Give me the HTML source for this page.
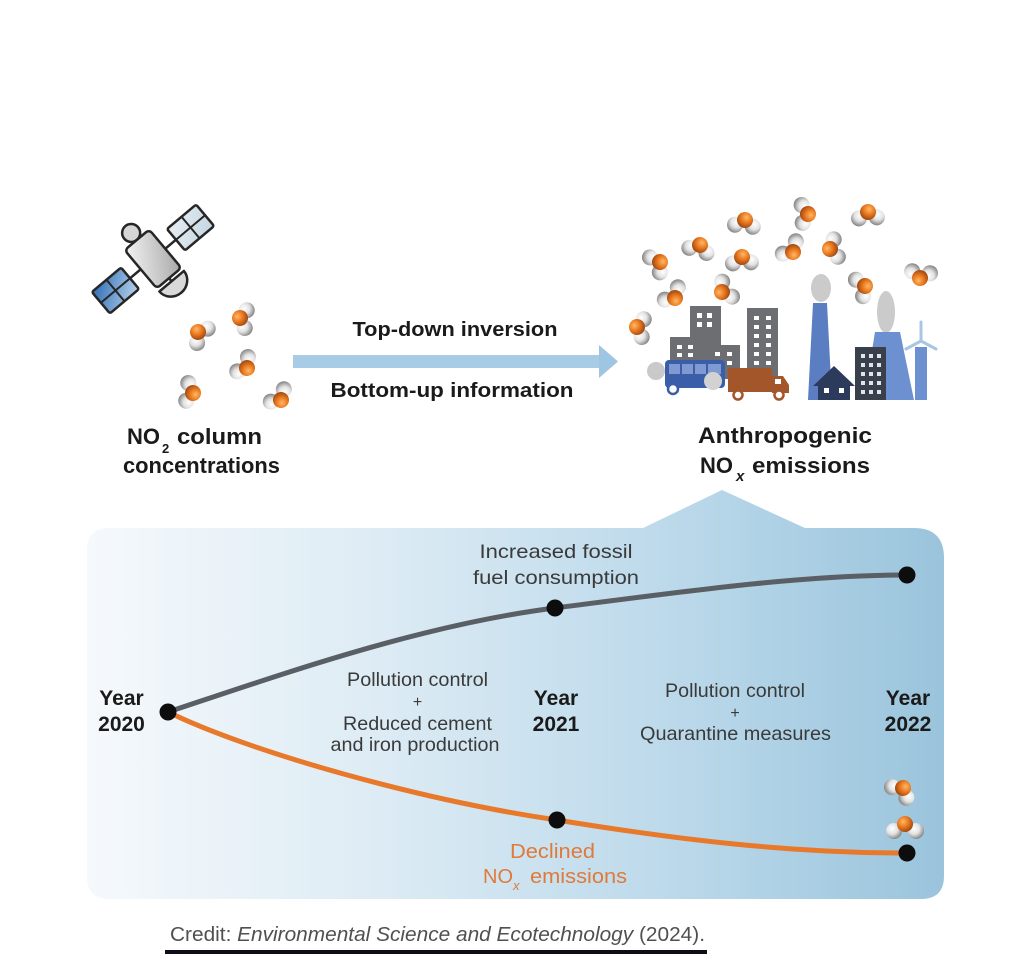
<!DOCTYPE html>
<html>
<head>
<meta charset="utf-8">
<style>
  html,body{margin:0;padding:0;background:#fff;}
  svg{display:block;}
  text{font-family:"Liberation Sans", Arial, sans-serif;}
</style>
</head>
<body>
<svg width="1024" height="969" viewBox="0 0 1024 969" xmlns="http://www.w3.org/2000/svg">
  <defs>
    <linearGradient id="panelG" x1="87" y1="0" x2="944" y2="0" gradientUnits="userSpaceOnUse">
      <stop offset="0" stop-color="#f5f9fc"/>
      <stop offset="0.35" stop-color="#dcebf4"/>
      <stop offset="0.7" stop-color="#bad8ea"/>
      <stop offset="1" stop-color="#9ac4dc"/>
    </linearGradient>
    <radialGradient id="gw" cx="38%" cy="35%" r="70%">
      <stop offset="0" stop-color="#ffffff"/>
      <stop offset="0.5" stop-color="#e2e2e2"/>
      <stop offset="1" stop-color="#7e7e7e"/>
    </radialGradient>
    <radialGradient id="go" cx="38%" cy="35%" r="70%">
      <stop offset="0" stop-color="#ffb866"/>
      <stop offset="0.5" stop-color="#e8781f"/>
      <stop offset="1" stop-color="#9a4410"/>
    </radialGradient>
    <linearGradient id="bodyG" x1="0" y1="0" x2="1" y2="1">
      <stop offset="0" stop-color="#f4f4f4"/>
      <stop offset="1" stop-color="#a8a8a8"/>
    </linearGradient>
    <linearGradient id="panelBlue" x1="0" y1="0" x2="1" y2="1">
      <stop offset="0" stop-color="#2f6fb8"/>
      <stop offset="1" stop-color="#b8d2ea"/>
    </linearGradient>
    <linearGradient id="panelLight" x1="0" y1="0" x2="1" y2="1">
      <stop offset="0" stop-color="#e8eef2"/>
      <stop offset="1" stop-color="#c4d6e2"/>
    </linearGradient>
    <symbol id="m" overflow="visible">
      <circle cx="9" cy="-5" r="8" fill="url(#gw)"/>
      <circle cx="1" cy="11" r="8" fill="url(#gw)"/>
      <circle cx="0" cy="0" r="8" fill="url(#go)"/>
    </symbol>
  </defs>

  <!-- Satellite -->
  <g transform="translate(153,259) rotate(-40)" stroke="#262626" stroke-width="2.5" stroke-linejoin="round">
    <line x1="15" y1="0" x2="31" y2="0"/>
    <line x1="-15" y1="0" x2="-31" y2="0"/>
    <rect x="30" y="-14" width="38" height="28" rx="2" fill="url(#panelLight)"/>
    <line x1="49" y1="-14" x2="49" y2="14" stroke-width="2"/>
    <line x1="30" y1="0" x2="68" y2="0" stroke-width="2"/>
    <rect x="-68" y="-14" width="38" height="28" rx="2" fill="url(#panelBlue)"/>
    <line x1="-49" y1="-14" x2="-49" y2="14" stroke-width="2"/>
    <line x1="-68" y1="0" x2="-30" y2="0" stroke-width="2"/>
    <circle cx="0" cy="-34" r="9" fill="#d6d6d6"/>
    <line x1="0" y1="24" x2="0" y2="30"/>
    <path d="M -16,29 L 16,29 A 16 15 0 0 1 -16,29 Z" fill="#d9d9d9"/>
    <rect x="-16" y="-25" width="32" height="50" rx="4" fill="url(#bodyG)"/>
  </g>

  <!-- Left molecules -->
  <use href="#m" transform="translate(198,332) rotate(10)"/>
  <use href="#m" transform="translate(240,318) rotate(-20)"/>
  <use href="#m" transform="translate(247,368) rotate(190)"/>
  <use href="#m" transform="translate(193,393) rotate(160)"/>
  <use href="#m" transform="translate(281,400) rotate(200)"/>

  <!-- Arrow -->
  <rect x="293" y="355" width="308" height="13" fill="#a8cce6"/>
  <polygon points="599,345 618,361.5 599,378" fill="#9ec6e2"/>
  <text x="455" y="336" font-size="20" font-weight="bold" fill="#1a1a1a" text-anchor="middle" textLength="205" lengthAdjust="spacingAndGlyphs">Top-down inversion</text>
  <text x="452" y="397" font-size="20" font-weight="bold" fill="#1a1a1a" text-anchor="middle" textLength="243" lengthAdjust="spacingAndGlyphs">Bottom-up information</text>

  <!-- Left title -->
  <text x="127" y="444" font-size="22" font-weight="bold" fill="#1a1a1a">NO</text>
  <text x="162" y="453" font-size="13" font-weight="bold" fill="#1a1a1a">2</text>
  <text x="177" y="444" font-size="22" font-weight="bold" fill="#1a1a1a" textLength="85" lengthAdjust="spacingAndGlyphs">column</text>
  <text x="123" y="473" font-size="22" font-weight="bold" fill="#1a1a1a" textLength="157" lengthAdjust="spacingAndGlyphs">concentrations</text>

  <!-- Right cluster: smoke -->
  <ellipse cx="821" cy="288" rx="10" ry="14" fill="#cbcbcb"/>
  <ellipse cx="886" cy="312" rx="9" ry="21" fill="#cbcbcb"/>
  <!-- buildings -->
  <g fill="#6d6e71">
    <rect x="690" y="306" width="31" height="66"/>
    <rect x="670" y="337" width="32" height="40"/>
    <rect x="708" y="345" width="32" height="34"/>
    <rect x="747" y="308" width="31" height="78"/>
  </g>
  <g fill="#ffffff">
    <rect x="697" y="313" width="5" height="5"/><rect x="707" y="313" width="5" height="5"/>
    <rect x="697" y="322" width="5" height="5"/><rect x="707" y="322" width="5" height="5"/>
    <rect x="677" y="345" width="5" height="4"/><rect x="688" y="345" width="5" height="4"/>
    <rect x="677" y="353" width="5" height="4"/><rect x="688" y="353" width="5" height="4"/>
    <rect x="715" y="352" width="5" height="4"/><rect x="727" y="352" width="5" height="4"/>
    <rect x="715" y="361" width="5" height="4"/><rect x="727" y="361" width="5" height="4"/>
    <rect x="754" y="316" width="5" height="4"/><rect x="766" y="316" width="5" height="4"/>
    <rect x="754" y="325" width="5" height="4"/><rect x="766" y="325" width="5" height="4"/>
    <rect x="754" y="334" width="5" height="4"/><rect x="766" y="334" width="5" height="4"/>
    <rect x="754" y="343" width="5" height="4"/><rect x="766" y="343" width="5" height="4"/>
    <rect x="754" y="352" width="5" height="4"/><rect x="766" y="352" width="5" height="4"/>
    <rect x="754" y="361" width="5" height="4"/><rect x="766" y="361" width="5" height="4"/>
  </g>
  <!-- bus -->
  <circle cx="656" cy="371" r="9" fill="#c9c9c9"/>
  <rect x="665" y="360" width="60" height="28" rx="4" fill="#3a5ea8"/>
  <rect x="669" y="364" width="52" height="10" fill="#7f9ad0"/>
  <g fill="#3a5ea8"><rect x="680" y="364" width="2" height="10"/><rect x="693" y="364" width="2" height="10"/><rect x="706" y="364" width="2" height="10"/></g>
  <circle cx="673" cy="389" r="5" fill="#fff" stroke="#3a5ea8" stroke-width="2.5"/>
  <circle cx="713" cy="381" r="9" fill="#d2d2d2"/>
  <!-- truck -->
  <rect x="728" y="368" width="44" height="24" fill="#a3562a"/>
  <polygon points="772,376 783,376 789,385 789,393 772,393" fill="#a3562a"/>
  <rect x="775" y="379" width="6" height="5" fill="#fff"/>
  <circle cx="738" cy="395" r="4.5" fill="#fff" stroke="#a3562a" stroke-width="2.5"/>
  <circle cx="779" cy="395" r="4.5" fill="#fff" stroke="#a3562a" stroke-width="2.5"/>
  <!-- factory -->
  <polygon points="813,303 827,303 832,400 808,400" fill="#5b7ec2"/>
  <polygon points="875,332 900,332 914,400 864,400" fill="#6d90d0"/>
  <rect x="915" y="347" width="12" height="53" fill="#6d90d0"/>
  <g stroke="#a8c6e4" stroke-width="3" stroke-linecap="round">
    <line x1="921" y1="341" x2="921" y2="322"/>
    <line x1="921" y1="341" x2="906" y2="349"/>
    <line x1="921" y1="341" x2="936" y2="349"/>
  </g>
  <rect x="855" y="347" width="31" height="53" fill="#3a3f4c"/>
  <g fill="#dfe4ee">
    <rect x="861" y="354" width="4" height="4"/><rect x="869" y="354" width="4" height="4"/><rect x="877" y="354" width="4" height="4"/>
    <rect x="861" y="363" width="4" height="4"/><rect x="869" y="363" width="4" height="4"/><rect x="877" y="363" width="4" height="4"/>
    <rect x="861" y="372" width="4" height="4"/><rect x="869" y="372" width="4" height="4"/><rect x="877" y="372" width="4" height="4"/>
    <rect x="861" y="381" width="4" height="4"/><rect x="869" y="381" width="4" height="4"/><rect x="877" y="381" width="4" height="4"/>
    <rect x="861" y="390" width="4" height="4"/><rect x="869" y="390" width="4" height="4"/><rect x="877" y="390" width="4" height="4"/>
  </g>
  <polygon points="813,386 834,366 855,386 850,386 850,400 818,400 818,386" fill="#2c3a5c"/>
  <rect x="824" y="388" width="5" height="5" fill="#fff"/><rect x="839" y="388" width="5" height="5" fill="#fff"/>

  <!-- Right molecules -->
  <use href="#m" transform="translate(745,220) rotate(70)"/>
  <use href="#m" transform="translate(808,214) rotate(150)"/>
  <use href="#m" transform="translate(868,212) rotate(60)"/>
  <use href="#m" transform="translate(700,245) rotate(80)"/>
  <use href="#m" transform="translate(742,257) rotate(60)"/>
  <use href="#m" transform="translate(793,252) rotate(200)"/>
  <use href="#m" transform="translate(830,249) rotate(-40)"/>
  <use href="#m" transform="translate(660,262) rotate(120)"/>
  <use href="#m" transform="translate(675,298) rotate(200)"/>
  <use href="#m" transform="translate(722,292) rotate(-60)"/>
  <use href="#m" transform="translate(865,286) rotate(130)"/>
  <use href="#m" transform="translate(920,278) rotate(-110)"/>
  <use href="#m" transform="translate(637,327) rotate(-20)"/>

  <!-- Right title -->
  <text x="698" y="443" font-size="22" font-weight="bold" fill="#1a1a1a" textLength="174" lengthAdjust="spacingAndGlyphs">Anthropogenic</text>
  <text x="700" y="473" font-size="22" font-weight="bold" fill="#1a1a1a">NO</text>
  <text x="736" y="481" font-size="15" font-weight="bold" font-style="italic" fill="#1a1a1a">x</text>
  <text x="752" y="473" font-size="22" font-weight="bold" fill="#1a1a1a" textLength="118" lengthAdjust="spacingAndGlyphs">emissions</text>

  <!-- Panel -->
  <path d="M 87,550 Q 87,528 109,528 L 643,528 L 722,490 L 805,528 L 914,528 Q 944,528 944,558 L 944,876 Q 944,899 921,899 L 109,899 Q 87,899 87,877 Z" fill="url(#panelG)"/>

  <!-- Curves -->
  <path d="M168,712 C 280,675 420,625 555,608 C 680,592 800,575 907,575" fill="none" stroke="#5a5f66" stroke-width="5" stroke-linecap="round"/>
  <path d="M168,712 C 250,752 420,800 557,820 C 680,840 790,853 907,853" fill="none" stroke="#e8782a" stroke-width="5" stroke-linecap="round"/>
  <g fill="#0d0d0d">
    <circle cx="168" cy="712" r="8.5"/>
    <circle cx="555" cy="608" r="8.5"/>
    <circle cx="907" cy="575" r="8.5"/>
    <circle cx="557" cy="820" r="8.5"/>
    <circle cx="907" cy="853" r="8.5"/>
  </g>

  <!-- Molecules near 2022 -->
  <use href="#m" transform="translate(903,788) rotate(100)"/>
  <g transform="translate(905,828)">
    <circle cx="-11" cy="3" r="8" fill="url(#gw)"/>
    <circle cx="11" cy="3" r="8" fill="url(#gw)"/>
    <circle cx="0" cy="-4" r="8" fill="url(#go)"/>
  </g>

  <!-- Panel text -->
  <g fill="#3a3a3a" font-size="19.5" text-anchor="middle">
    <text x="556" y="558" textLength="153" lengthAdjust="spacingAndGlyphs">Increased fossil</text>
    <text x="556" y="584" textLength="166" lengthAdjust="spacingAndGlyphs">fuel consumption</text>
    <text x="417.5" y="686" textLength="141" lengthAdjust="spacingAndGlyphs">Pollution control</text>
    <text x="417.5" y="707" font-size="16">+</text>
    <text x="417.5" y="730" textLength="149" lengthAdjust="spacingAndGlyphs">Reduced cement</text>
    <text x="415" y="751" textLength="169" lengthAdjust="spacingAndGlyphs">and iron production</text>
    <text x="735" y="697" textLength="140" lengthAdjust="spacingAndGlyphs">Pollution control</text>
    <text x="735" y="718" font-size="16">+</text>
    <text x="735.5" y="740" textLength="191" lengthAdjust="spacingAndGlyphs">Quarantine measures</text>
  </g>
  <g fill="#1a1a1a" font-size="21" font-weight="bold" text-anchor="middle">
    <text x="121.5" y="705">Year</text>
    <text x="121.5" y="731">2020</text>
    <text x="556" y="705">Year</text>
    <text x="556" y="731">2021</text>
    <text x="908" y="705">Year</text>
    <text x="908" y="731">2022</text>
  </g>
  <text x="552.5" y="858" font-size="20" fill="#e07a3a" text-anchor="middle" textLength="85" lengthAdjust="spacingAndGlyphs">Declined</text>
  <text x="483" y="883" font-size="20" fill="#e07a3a">NO</text>
  <text x="513" y="890" font-size="13" font-style="italic" fill="#e07a3a">x</text>
  <text x="530" y="883" font-size="20" fill="#e07a3a" textLength="97" lengthAdjust="spacingAndGlyphs">emissions</text>

  <!-- Credit -->
  <text x="170" y="941" font-size="20" fill="#505050" textLength="535" lengthAdjust="spacingAndGlyphs">Credit: <tspan font-style="italic">Environmental Science and Ecotechnology</tspan> (2024).</text>
  <rect x="165" y="950" width="542" height="4" fill="#0d0d18"/>
</svg>
</body>
</html>
